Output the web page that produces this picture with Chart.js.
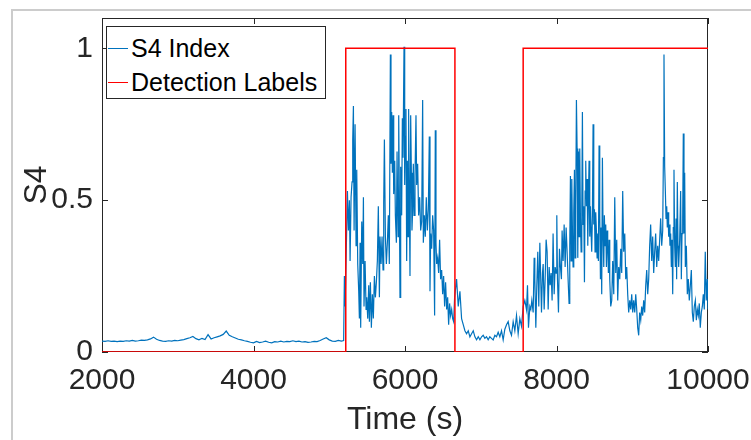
<!DOCTYPE html>
<html>
<head>
<meta charset="utf-8">
<script src="https://cdn.jsdelivr.net/npm/chart.js"></script>
<style>
	body { margin: 0; background: #fff; }
	#wrap { position: relative; width: 751px; height: 440px; overflow: hidden; }
	#frame { position: absolute; left: 11px; top: 9px; width: 800px; height: 500px; border-top: 2px solid #cccccc; border-left: 2px solid #cccccc; }
	#legend { position: absolute; left: 106px; top: 26px; width: 220px; height: 73px; box-sizing: border-box; border: 1px solid #262626; background: #fff; padding-top: 4px;
		font-family: 'Liberation Sans', Arial, sans-serif; font-size: 25px; color: #000; }
	#legend .row { position: relative; height: 34px; line-height: 34px; padding-left: 24px; white-space: nowrap; }
	#legend .row span { position: absolute; left: 1px; top: 17px; width: 20px; }
</style>
</head>
<body>
<div id="wrap">
	<div id="frame"></div>
	<canvas id="s4Chart"></canvas>
	<div id="legend"></div>
</div>
<script>
let xTicks = [2000, 4000, 6000, 8000, 10000];
let yTicks = [0, 0.5, 1];

// S4 index (time in s)
let s4Time = [
	2000, 2040, 2080, 2120, 2160, 2200, 2240, 2280, 2320, 2360, 2400, 2440, 2480, 2520, 2560, 2600,
	2640, 2680, 2720, 2760, 2800, 2840, 2880, 2920, 2960, 3000, 3040, 3080, 3120, 3160, 3200, 3240,
	3280, 3320, 3360, 3400, 3440, 3480, 3520, 3560, 3600, 3640, 3680, 3720, 3760, 3800, 3840, 3880,
	3920, 3960, 4000, 4040, 4080, 4120, 4160, 4200, 4240, 4280, 4320, 4360, 4400, 4440, 4480, 4520,
	4560, 4600, 4640, 4680, 4720, 4760, 4800, 4840, 4880, 4920, 4960, 5000, 5040, 5080, 5120, 5160,
	5190, 5200, 5209, 5222, 5240, 5253, 5266, 5275, 5288, 5301, 5310, 5319, 5328, 5341, 5354, 5363,
	5376, 5389, 5398, 5407, 5415, 5429, 5442, 5451, 5459, 5473, 5486, 5495, 5508, 5521, 5530, 5543,
	5556, 5569, 5582, 5596, 5609, 5622, 5635, 5648, 5662, 5670, 5684, 5697, 5710, 5719, 5728, 5741,
	5754, 5767, 5780, 5793, 5807, 5815, 5824, 5833, 5842, 5851, 5864, 5873, 5886, 5895, 5908, 5917,
	5925, 5934, 5943, 5956, 5965, 5974, 5987, 5996, 6004, 6013, 6022, 6031, 6040, 6048, 6057, 6066,
	6075, 6084, 6092, 6101, 6110, 6119, 6132, 6145, 6154, 6167, 6180, 6194, 6207, 6220, 6233, 6242,
	6255, 6268, 6281, 6295, 6308, 6321, 6330, 6339, 6352, 6365, 6378, 6391, 6400, 6409, 6418, 6431,
	6444, 6457, 6470, 6484, 6497, 6510, 6523, 6536, 6550, 6563, 6576, 6589, 6602, 6616, 6629, 6642,
	6655, 6681, 6703, 6725, 6747, 6769, 6791, 6813, 6835, 6857, 6879, 6901, 6923, 6945, 6967, 6989,
	7011, 7032, 7054, 7076, 7098, 7120, 7142, 7164, 7186, 7208, 7230, 7252, 7274, 7296, 7318, 7340,
	7362, 7384, 7406, 7428, 7450, 7472, 7494, 7516, 7538, 7560, 7582, 7604, 7617, 7630, 7648, 7661,
	7674, 7692, 7705, 7714, 7727, 7740, 7753, 7766, 7780, 7788, 7802, 7815, 7824, 7837, 7850, 7863,
	7876, 7890, 7903, 7916, 7929, 7942, 7955, 7969, 7982, 7995, 8004, 8013, 8026, 8039, 8052, 8065,
	8074, 8087, 8101, 8114, 8127, 8140, 8153, 8166, 8175, 8184, 8193, 8202, 8210, 8219, 8228, 8237,
	8246, 8254, 8263, 8272, 8281, 8290, 8298, 8307, 8316, 8325, 8334, 8342, 8351, 8360, 8369, 8378,
	8386, 8395, 8404, 8413, 8421, 8430, 8439, 8448, 8457, 8465, 8474, 8483, 8492, 8501, 8509, 8518,
	8527, 8536, 8545, 8553, 8562, 8571, 8580, 8589, 8597, 8606, 8615, 8624, 8632, 8641, 8650, 8659,
	8668, 8676, 8685, 8694, 8703, 8716, 8729, 8742, 8756, 8769, 8782, 8795, 8808, 8821, 8835, 8848,
	8861, 8874, 8887, 8901, 8914, 8927, 8940, 8953, 8967, 8980, 8993, 9006, 9019, 9033, 9046, 9059,
	9072, 9085, 9098, 9112, 9125, 9138, 9151, 9164, 9178, 9191, 9204, 9217, 9230, 9243, 9257, 9270,
	9283, 9296, 9309, 9323, 9336, 9349, 9362, 9375, 9389, 9402, 9411, 9419, 9428, 9437, 9446, 9455,
	9463, 9472, 9481, 9490, 9498, 9507, 9516, 9525, 9534, 9542, 9551, 9560, 9569, 9578, 9586, 9595,
	9604, 9613, 9626, 9639, 9648, 9657, 9666, 9674, 9683, 9692, 9701, 9714, 9727, 9740, 9753, 9767,
	9780, 9793, 9806, 9819, 9833, 9846, 9859, 9872, 9885, 9898, 9912, 9925, 9938, 9951, 9964, 9977,
	9991, 10000
];
let s4Value = [
	0.036, 0.035, 0.037, 0.035, 0.036, 0.034, 0.036, 0.035, 0.037, 0.036, 0.038, 0.036, 0.037, 0.039, 0.038, 0.040,
	0.043, 0.049, 0.042, 0.038, 0.036, 0.035, 0.037, 0.036, 0.038, 0.037, 0.039, 0.041, 0.044, 0.047, 0.051, 0.044,
	0.040, 0.045, 0.041, 0.057, 0.043, 0.047, 0.050, 0.053, 0.058, 0.069, 0.055, 0.050, 0.046, 0.042, 0.040, 0.037,
	0.035, 0.032, 0.030, 0.035, 0.031, 0.033, 0.036, 0.032, 0.030, 0.034, 0.033, 0.036, 0.033, 0.035, 0.034, 0.037,
	0.034, 0.036, 0.033, 0.034, 0.032, 0.033, 0.035, 0.034, 0.038, 0.043, 0.047, 0.040, 0.036, 0.035, 0.038, 0.036,
	0.038, 0.25, 0.15, 0.30, 0.53, 0.40, 0.50, 0.30, 0.51, 0.56, 0.70, 0.81, 0.40, 0.75, 0.35, 0.60,
	0.29, 0.20, 0.11, 0.36, 0.08, 0.43, 0.29, 0.51, 0.15, 0.30, 0.14, 0.18, 0.11, 0.22, 0.10, 0.23,
	0.08, 0.19, 0.11, 0.25, 0.18, 0.23, 0.30, 0.48, 0.18, 0.38, 0.29, 0.38, 0.27, 0.49, 0.70, 0.38,
	0.29, 0.36, 0.45, 0.29, 0.98, 0.62, 0.79, 0.59, 0.78, 0.52, 0.63, 0.45, 0.36, 0.66, 0.38, 0.78,
	0.53, 0.18, 0.61, 0.45, 0.77, 0.64, 1.005, 0.55, 0.71, 0.80, 0.30, 0.63, 0.38, 0.80, 0.51, 0.25,
	0.78, 0.59, 0.40, 0.47, 0.62, 0.45, 0.58, 0.78, 0.55, 0.62, 0.45, 0.51, 0.40, 0.43, 0.83, 0.36,
	0.45, 0.38, 0.51, 0.40, 0.47, 0.71, 0.20, 0.39, 0.34, 0.45, 0.40, 0.12, 0.73, 0.36, 0.29, 0.31,
	0.26, 0.37, 0.24, 0.27, 0.19, 0.25, 0.15, 0.23, 0.14, 0.18, 0.09, 0.16, 0.12, 0.14, 0.11, 0.10,
	0.18, 0.24, 0.15, 0.20, 0.11, 0.09, 0.07, 0.06, 0.07, 0.05, 0.06, 0.07, 0.05, 0.04, 0.05, 0.04,
	0.05, 0.055, 0.045, 0.05, 0.04, 0.05, 0.045, 0.04, 0.055, 0.05, 0.065, 0.05, 0.07, 0.04, 0.075, 0.09,
	0.10, 0.07, 0.055, 0.10, 0.07, 0.12, 0.06, 0.11, 0.085, 0.15, 0.17, 0.14, 0.22, 0.08, 0.15, 0.14,
	0.17, 0.13, 0.31, 0.24, 0.08, 0.22, 0.33, 0.15, 0.36, 0.28, 0.13, 0.26, 0.29, 0.14, 0.24, 0.37,
	0.33, 0.14, 0.28, 0.22, 0.26, 0.17, 0.39, 0.19, 0.28, 0.26, 0.45, 0.24, 0.13, 0.34, 0.28, 0.24,
	0.40, 0.30, 0.42, 0.28, 0.41, 0.33, 0.24, 0.16, 0.35, 0.58, 0.30, 0.57, 0.41, 0.28, 0.46, 0.60,
	0.31, 0.48, 0.83, 0.67, 0.31, 0.66, 0.38, 0.67, 0.44, 0.33, 0.48, 0.79, 0.42, 0.48, 0.23, 0.53,
	0.63, 0.48, 0.57, 0.35, 0.50, 0.63, 0.38, 0.48, 0.39, 0.33, 0.45, 0.75, 0.42, 0.47, 0.33, 0.46,
	0.40, 0.31, 0.39, 0.30, 0.68, 0.45, 0.24, 0.41, 0.19, 0.64, 0.39, 0.28, 0.45, 0.35, 0.42, 0.28,
	0.40, 0.35, 0.26, 0.37, 0.24, 0.15, 0.17, 0.30, 0.19, 0.51, 0.26, 0.37, 0.17, 0.28, 0.24, 0.34,
	0.26, 0.53, 0.33, 0.39, 0.24, 0.28, 0.19, 0.13, 0.17, 0.14, 0.19, 0.13, 0.17, 0.13, 0.19, 0.14,
	0.08, 0.055, 0.13, 0.105, 0.15, 0.12, 0.17, 0.13, 0.22, 0.27, 0.19, 0.24, 0.35, 0.42, 0.30, 0.38,
	0.26, 0.33, 0.39, 0.28, 0.35, 0.30, 0.37, 0.44, 0.35, 0.40, 0.64, 0.98, 0.61, 0.53, 0.44, 0.48,
	0.41, 0.46, 0.38, 0.42, 0.35, 0.39, 0.28, 0.37, 0.19, 0.41, 0.60, 0.35, 0.28, 0.44, 0.24, 0.56,
	0.35, 0.28, 0.37, 0.53, 0.24, 0.39, 0.44, 0.72, 0.39, 0.59, 0.28, 0.35, 0.19, 0.24, 0.17, 0.22,
	0.27, 0.13, 0.10, 0.15, 0.17, 0.105, 0.14, 0.12, 0.16, 0.08, 0.13, 0.15, 0.19, 0.14, 0.33, 0.17,
	0.24, 0.14
];

// detection labels (step changes)
let labelTime = [2000, 5218, 6659, 7560, 10000];
let labelValue = [0, 1, 0, 1, 1];

const axisColor = '#262626';

const matlabAxes = {
	id: 'matlabAxes',
	beforeDatasetsDraw(chart) {
		const ctx = chart.ctx;
		const a = chart.chartArea;
		const x = chart.scales.x;
		const y = chart.scales.y;
		const len = 6;
		ctx.save();
		ctx.strokeStyle = axisColor;
		ctx.lineWidth = 1;
		ctx.beginPath();
		x.ticks.forEach(function (t) {
			const px = Math.round(x.getPixelForValue(t.value)) + 0.5;
			ctx.moveTo(px, a.bottom); ctx.lineTo(px, a.bottom - len);
			ctx.moveTo(px, a.top); ctx.lineTo(px, a.top + len);
		});
		y.ticks.forEach(function (t) {
			const py = Math.round(y.getPixelForValue(t.value)) + 0.5;
			ctx.moveTo(a.left, py); ctx.lineTo(a.left + len, py);
			ctx.moveTo(a.right, py); ctx.lineTo(a.right - len, py);
		});
		ctx.stroke();
		ctx.strokeRect(a.left + 0.5, a.top + 0.5, a.right - a.left - 1, a.bottom - a.top - 1);
		ctx.restore();
	}
};

// keep the axes box where the figure has it: no extra room for overhanging labels
function noLabelPadding(s) {
	s.paddingTop = 0; s.paddingBottom = 0; s.paddingLeft = 0; s.paddingRight = 0;
}

var ctx = document.getElementById('s4Chart').getContext('2d');
var s4Chart = new Chart(ctx, {
	type: 'line',
	data: {
		datasets: [{
			label: 'S4 Index',
			data: s4Time.map((t, i) => ({ x: t, y: s4Value[i] })),
			borderColor: '#0072BD',
			borderWidth: 1.2,
			pointRadius: 0,
			order: 2
		}, {
			label: 'Detection Labels',
			data: labelTime.map((t, i) => ({ x: t, y: labelValue[i] })),
			borderColor: '#FF0000',
			borderWidth: 1.5,
			pointRadius: 0,
			stepped: true,
			order: 1
		}]
	},
	options: {
		responsive: true,
		maintainAspectRatio: false,
		animation: false,
		events: [],
		layout: { padding: { top: 18, right: 43, bottom: 0, left: 0 } },
		plugins: {
			legend: { display: false },
			tooltip: { enabled: false }
		},
		scales: {
			x: {
				type: 'linear',
				min: 2000,
				max: 10000,
				afterBuildTicks: s => { s.ticks = xTicks.map(v => ({ value: v })); },
				afterFit: s => { s.height = 88; noLabelPadding(s); },
				grid: { display: false, drawTicks: false },
				border: { display: false },
				ticks: {
					autoSkip: false, maxRotation: 0, padding: 11, color: axisColor,
					font: { family: "'Liberation Sans Narrow', 'Liberation Sans', sans-serif", size: 30 },
					callback: v => String(v)
				},
				title: {
					display: true, text: 'Time (s)', color: axisColor,
					padding: { top: 0, bottom: 1 },
					font: { family: "'Liberation Sans', Arial, sans-serif", size: 32 }
				}
			},
			y: {
				min: 0,
				max: 1.1,
				afterBuildTicks: s => { s.ticks = yTicks.map(v => ({ value: v })); },
				afterFit: s => { s.width = 102; noLabelPadding(s); },
				grid: { display: false, drawTicks: false },
				border: { display: false },
				ticks: {
					autoSkip: false, padding: 9, color: axisColor,
					font: { family: "'Liberation Sans Narrow', 'Liberation Sans', sans-serif", size: 30 },
					callback: v => String(v)
				},
				title: {
					display: true, text: 'S4', color: axisColor,
					padding: { top: 18, bottom: 0 },
					font: { family: "'Liberation Sans', Arial, sans-serif", size: 32 }
				}
			}
		}
	},
	plugins: [matlabAxes]
});

// legend box inside the axes, like the original figure
var legendEl = document.getElementById('legend');
s4Chart.data.datasets.forEach(function (ds) {
	var row = document.createElement('div');
	row.className = 'row';
	var swatch = document.createElement('span');
	swatch.style.borderTop = ds.borderWidth + 'px solid ' + ds.borderColor;
	row.appendChild(swatch);
	row.appendChild(document.createTextNode(ds.label));
	legendEl.appendChild(row);
});
</script>
</body>
</html>
